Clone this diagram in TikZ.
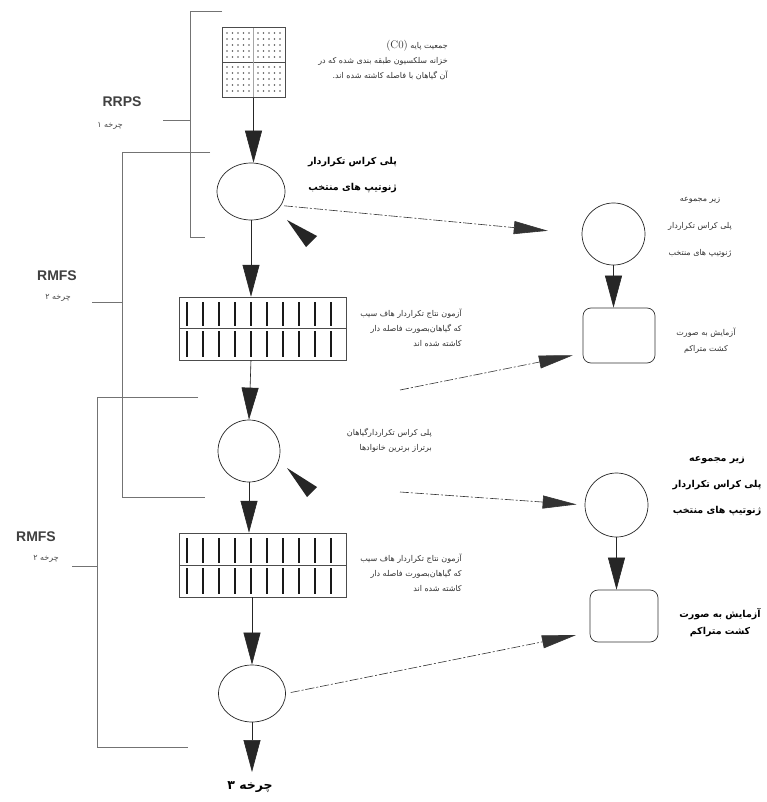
\documentclass[tikz,border=0pt]{standalone}
\usepackage{fontspec}
\usetikzlibrary{arrows.meta,shapes.geometric}
\TeXXeTstate=1
\newfontfamily\arabicfont[Script=Arabic]{DejaVu Sans}
\newfontfamily\latfont{Liberation Sans}
\newcommand\prs[1]{{\arabicfont\beginR #1\endR}}
\begin{document}
\begin{tikzpicture}[x=1pt,y=-1pt,
  brk/.style={draw=black!55, line width=0.6pt},
  big/.style={-{Triangle[length=32pt,width=17pt]}, line width=0.6pt, draw=black!85, fill=black!85},
  dsh/.style={-{Triangle[length=34pt,width=13pt]}, line width=0.6pt, draw=black!80, dash pattern=on 9pt off 2pt on 2pt off 2pt},
  circ/.style={ellipse, draw=black!85, line width=0.7pt, inner sep=0pt},
  rbox/.style={rectangle, rounded corners=8pt, draw=black!80, line width=0.7pt, inner sep=0pt},
  hbox/.style={rectangle, draw=black!70, line width=0.5pt, inner sep=0pt},
  bar/.style={draw=black!90, line width=2.2pt},
  gtxt/.style={text=black!80, font=\arabicfont\fontsize{8}{15}\selectfont, inner sep=0pt},
  btxt/.style={text=black, font=\arabicfont\bfseries\fontsize{9.5}{26}\selectfont, inner sep=0pt},
  lab/.style={text=black!75, font=\latfont\bfseries\fontsize{14}{16}\selectfont, inner sep=0pt},
  slab/.style={text=black!72, font=\arabicfont\fontsize{8}{9}\selectfont, inner sep=0pt}
]
\useasboundingbox (0,0) rectangle (766,802);
\fill[white] (0,0) rectangle (766,802);

% brackets
\draw[brk] (222,11) -- (190,11) -- (190,237) -- (205,237);
\draw[brk] (163,120) -- (190,120);
\draw[brk] (210,152) -- (122,152) -- (122,497) -- (205,497);
\draw[brk] (92,302) -- (122,302);
\draw[brk] (198,397) -- (97,397) -- (97,747) -- (188,747);
\draw[brk] (72,566) -- (97,566);

% labels of brackets
\node[lab] (lrrps) at (122,102) {RRPS};
\node[slab] (lc1) at (110,126) {\prs{چرخه ۱}};
\node[lab] (lrmfs1) at (57,276) {RMFS};
\node[slab] (lc2) at (58,298) {\prs{چرخه ۲}};
\node[lab] (lrmfs2) at (36,537) {RMFS};
\node[slab] (lc3) at (46,559) {\prs{چرخه ۲}};

% grid of the base population
\node[hbox, minimum width=63pt, minimum height=70pt] (grid) at (253.5,62.5) {};
\draw[black!70, line width=0.6pt] (222,62) -- (285,62);
\draw[black!35, line width=0.4pt] (253.5,28) -- (253.5,97);
\foreach \x in {227,232.5,238,243.5,249,258,263.5,269,274.5,280}
  \foreach \y in {33,39,45,51,57,67,73,79,85,91}
    \fill[black!65] (\x,\y) circle (0.9pt);

% main column
\node[circ, minimum width=68pt, minimum height=57pt] (c1) at (251,191.5) {};
\node[hbox, minimum width=167pt, minimum height=63pt] (b1) at (262.5,328.5) {};
\draw[black!70, line width=0.5pt] (179,328) -- (346,328);
\foreach \i in {0,...,9} {
  \draw[bar] ({187+\i*16},302) -- ({187+\i*16},326);
  \draw[bar] ({187+\i*16},331) -- ({187+\i*16},357);
}
\node[circ, minimum width=62pt, minimum height=62pt] (c2) at (249,451) {};
\node[hbox, minimum width=167pt, minimum height=64pt] (b2) at (262.5,565) {};
\draw[black!70, line width=0.5pt] (179,565) -- (346,565);
\foreach \i in {0,...,9} {
  \draw[bar] ({187+\i*16},538) -- ({187+\i*16},563);
  \draw[bar] ({187+\i*16},568) -- ({187+\i*16},594);
}
\node[circ, minimum width=67pt, minimum height=57pt] (c3) at (252,693.5) {};
\coordinate (end3) at (252,772);

% right column
\node[circ, minimum width=63pt, minimum height=62pt] (r1c) at (613.5,234) {};
\node[rbox, minimum width=72pt, minimum height=55pt] (r1b) at (619,335.5) {};
\node[circ, minimum width=63pt, minimum height=64pt] (r2c) at (616.5,505) {};
\node[rbox, minimum width=68pt, minimum height=52pt] (r2b) at (624,616) {};

% vertical arrows
\draw[big] (grid.south) -- (grid.south |- c1.north);
\draw[big] (c1.south) -- (c1.south |- b1.north);
\draw[big] (c1.south |- b1.south) -- (c2.north);
\draw[big] (c2.south) -- (c2.south |- b2.north);
\draw[big] (c3.north |- b2.south) -- (c3.north);
\draw[big] (c3.south) -- (end3);
\draw[big] (r1c.south) -- (r1c.south |- r1b.north);
\draw[big] (r2c.south) -- (r2c.south |- r2b.north);

% dashed arrows to the right column
\coordinate (s1) at (400,390);
\coordinate (s2) at (400,492);
\draw[dsh, shorten <=3pt, shorten >=34pt] (c1.-25) -- (r1c.west);
\draw[dsh, shorten >=10pt] (s1) -- ([yshift=10pt]r1b.south west);
\draw[dsh, shorten >=8pt] (s2) -- (r2c.west);
\draw[dsh, shorten <=5pt, shorten >=14pt] (c3.east) -- ([yshift=10pt]r2b.south west);

% loose arrowheads
\fill[black!85] (287,220) -- (317,236) -- (306,247) -- cycle;
\fill[black!85] (287,468) -- (317,487) -- (307,497) -- cycle;

% texts
\node[gtxt, align=right, anchor=east] (ttop) at (448,60)
  {{\rmfamily\fontsize{11}{15}\selectfont (C0)}\ \prs{جمعیت پایه}\\
   \prs{خزانه سلکسیون طبقه بندی شده که در}\\
   \prs{آن گیاهان با فاصله کاشته شده اند.}};
\node[btxt, align=right, anchor=east] (tc1) at (397,175)
  {\prs{پلی کراس تکراردار}\\ \prs{ژنوتیپ های منتخب}};
\node[gtxt, align=center, font=\arabicfont\fontsize{8}{27}\selectfont] (tr1c) at (700,227)
  {\prs{زیر مجموعه}\\ \prs{پلی کراس تکراردار}\\ \prs{ژنوتیپ های منتخب}};
\node[gtxt, align=center, font=\arabicfont\fontsize{8}{16}\selectfont] (tr1b) at (706,341)
  {\prs{آزمایش به صورت}\\ \prs{کشت متراکم}};
\node[gtxt, align=right, anchor=east] (tb1) at (462,328)
  {\prs{آزمون نتاج تکراردار هاف سیب}\\ \prs{که گیاهان‌بصورت فاصله دار}\\ \prs{کاشته شده اند}};
\node[gtxt, align=right, anchor=east] (tc2) at (432,440)
  {\prs{پلی کراس تکراردارگیاهان}\\ \prs{برتراز برترین خانوادها}};
\node[btxt, align=center] (tr2c) at (717,486)
  {\prs{زیر مجموعه}\\ \prs{پلی کراس تکراردار}\\ \prs{ژنوتیپ های منتخب}};
\node[btxt, align=center, font=\arabicfont\bfseries\fontsize{9.5}{17}\selectfont] (tr2b) at (720,623)
  {\prs{آزمایش به صورت}\\ \prs{کشت متراکم}};
\node[gtxt, align=right, anchor=east] (tb2) at (462,573)
  {\prs{آزمون نتاج تکراردار هاف سیب}\\ \prs{که گیاهان‌بصورت فاصله دار}\\ \prs{کاشته شده اند}};
\node[btxt, font=\arabicfont\bfseries\fontsize{12.5}{14}\selectfont] (tend) at (250,787) {\prs{چرخه ۳}};
\end{tikzpicture}
\end{document}
